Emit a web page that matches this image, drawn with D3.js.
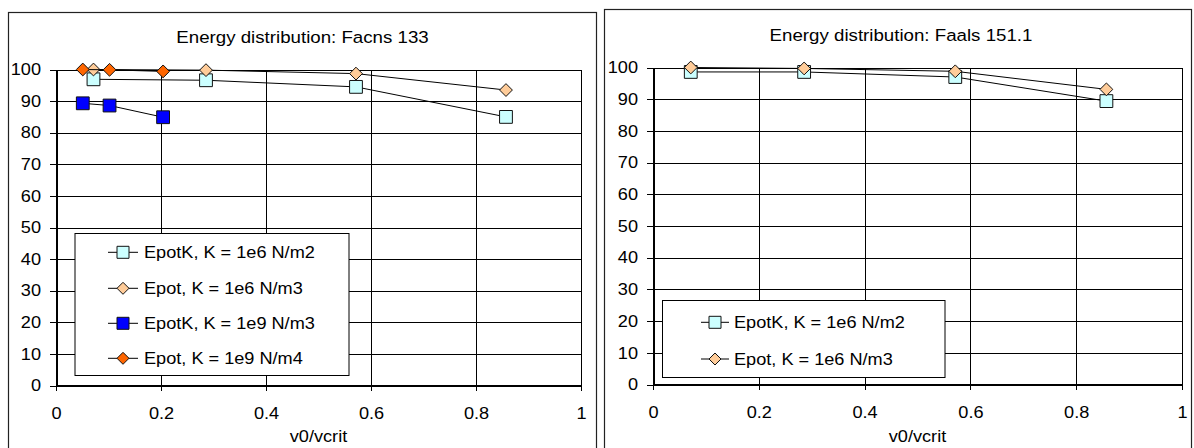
<!DOCTYPE html>
<html>
<head>
<meta charset="utf-8">
<script src="https://cdn.jsdelivr.net/npm/d3@7"></script>
<style>
  body { margin: 0; background: #fff; }
  svg { display: block; font-family: "Liberation Sans", Arial, sans-serif; }
  .grid line { stroke: #000; stroke-width: 1; shape-rendering: crispEdges; }
  .grid path { display: none; }
  .axis path, .axis line { stroke: #000; shape-rendering: crispEdges; }
  .axis path { stroke-width: 2; }
</style>
</head>
<body>
<svg width="1194" height="448"></svg>
<script>
// values
const xTickValues = [0, 0.2, 0.4, 0.6, 0.8, 1];
const yTickValues = [0, 10, 20, 30, 40, 50, 60, 70, 80, 90, 100];

const facnsX6 = [0.0714, 0.2857, 0.5714, 0.8571];
const facnsEpotK6 = [96.9, 96.6, 94.5, 85.0];
const facnsEpot6 = [100, 99.8, 98.7, 93.5];
const facnsX9 = [0.051, 0.102, 0.204];
const facnsEpotK9 = [89.3, 88.6, 84.9];
const facnsEpot9 = [100, 99.9, 99.4];

const faalsX6 = [0.0714, 0.2857, 0.5714, 0.8571];
const faalsEpotK6 = [98.6, 98.6, 97.0, 89.4];
const faalsEpot6 = [100, 99.7, 98.8, 93.1];

const facnsNames = ["EpotK, K = 1e6 N/m2", "Epot, K = 1e6 N/m3", "EpotK, K = 1e9 N/m3", "Epot, K = 1e9 N/m4"];
const faalsNames = ["EpotK, K = 1e6 N/m2", "Epot, K = 1e6 N/m3"];

const STRETCH = 1.1; // text in the picture is a little wide

const pts = (xs, ys) => xs.map((x, i) => ({ x, y: ys[i] }));

const charts = [
  {
    box: { x0: 8, y0: 12, x1: 596 },
    plot: { x0: 56, x1: 581, y0: 69.5, y1: 385.5 },
    title: "Energy distribution: Facns 133", titleX: 302.5, titleY: 42.7,
    legend: { x: 75, y: 233.5, w: 274, h: 142, rows: [252.3, 288.3, 323.3, 358.3], lx0: 108, lx1: 138, tx: 144 },
    series: [
      { name: facnsNames[0], data: pts(facnsX6, facnsEpotK6), shape: "square", fill: "#ccffff" },
      { name: facnsNames[1], data: pts(facnsX6, facnsEpot6), shape: "diamond", fill: "#ffcc99" },
      { name: facnsNames[2], data: pts(facnsX9, facnsEpotK9), shape: "square", fill: "#0000ff" },
      { name: facnsNames[3], data: pts(facnsX9, facnsEpot9), shape: "diamond", fill: "#ff6600" }
    ]
  },
  {
    box: { x0: 604, y0: 9, x1: 1191 },
    plot: { x0: 653, x1: 1182, y0: 67.5, y1: 384.5 },
    title: "Energy distribution: Faals 151.1", titleX: 901, titleY: 40.7,
    legend: { x: 662.5, y: 300.5, w: 282.5, h: 77, rows: [322.3, 359], lx0: 701, lx1: 729, tx: 734 },
    series: [
      { name: faalsNames[0], data: pts(faalsX6, faalsEpotK6), shape: "square", fill: "#ccffff" },
      { name: faalsNames[1], data: pts(faalsX6, faalsEpot6), shape: "diamond", fill: "#ffcc99" }
    ]
  }
];

const svg = d3.select("svg");

const markerPath = (shape, r) => shape === "square"
  ? `M${-r},${-r}H${r}V${r}H${-r}Z`
  : `M0,${-r}L${r},0L0,${r}L${-r},0Z`;

const addText = (g, txt, x, y, size, anchor) =>
  g.append("text")
    .attr("transform", `translate(${x},${y}) scale(${STRETCH},1)`)
    .attr("text-anchor", anchor)
    .style("font-size", size + "px")
    .attr("fill", "#000")
    .text(txt);

charts.forEach(c => {
  const g = svg.append("g");
  const p = c.plot;

  // chart border
  g.append("rect")
    .attr("x", c.box.x0 + 0.5).attr("y", c.box.y0 + 0.5)
    .attr("width", c.box.x1 - c.box.x0).attr("height", 470)
    .attr("fill", "#fff").attr("stroke", "#222").attr("stroke-width", 1.2);

  addText(g, c.title, c.titleX, c.titleY, 17, "middle");

  const x = d3.scaleLinear().domain([0, 1]).range([p.x0, p.x1]);
  const y = d3.scaleLinear().domain([0, 100]).range([p.y1, p.y0]);

  // gridlines
  g.append("g").attr("class", "grid")
    .attr("transform", `translate(${p.x0},0)`)
    .call(d3.axisLeft(y).tickValues(yTickValues).tickSize(-(p.x1 - p.x0)).tickFormat(""));
  g.append("g").attr("class", "grid")
    .attr("transform", `translate(0,${p.y1})`)
    .call(d3.axisBottom(x).tickValues(xTickValues).tickSize(-(p.y1 - p.y0)).tickFormat(""));

  // axes
  const yAxis = g.append("g").attr("class", "axis")
    .attr("transform", `translate(${p.x0},0)`)
    .call(d3.axisLeft(y).tickValues(yTickValues).tickSize(6).tickSizeOuter(0).tickFormat(d3.format("d")));
  yAxis.selectAll("text")
    .style("font-size", "16.5px")
    .style("font-family", "'Liberation Sans', Arial, sans-serif")
    .attr("fill", "#000")
    .attr("x", -15 / STRETCH)
    .attr("transform", `scale(${STRETCH},1)`);

  const xAxis = g.append("g").attr("class", "axis")
    .attr("transform", `translate(0,${p.y1})`)
    .call(d3.axisBottom(x).tickValues(xTickValues).tickSize(5).tickSizeOuter(0).tickFormat(d3.format("")));
  xAxis.selectAll("text")
    .style("font-size", "16.5px")
    .style("font-family", "'Liberation Sans', Arial, sans-serif")
    .attr("fill", "#000")
    .attr("y", 34).attr("dy", 0)
    .attr("transform", `scale(${STRETCH},1)`);

  addText(g, "v0/vcrit", (p.x0 + p.x1) / 2, 442, 16.5, "middle");

  // series
  const line = d3.line().x(d => x(d.x)).y(d => y(d.y));
  c.series.forEach(s => {
    g.append("path")
      .datum(s.data)
      .attr("d", line)
      .attr("fill", "none")
      .attr("stroke", "#000")
      .attr("stroke-width", 1);
    g.selectAll(null)
      .data(s.data)
      .join("path")
      .attr("transform", d => `translate(${x(d.x)},${y(d.y)})`)
      .attr("d", markerPath(s.shape, 6.4))
      .attr("fill", s.fill)
      .attr("stroke", "#111")
      .attr("stroke-width", 1);
  });

  // legend
  const L = c.legend;
  const lg = g.append("g");
  lg.append("rect")
    .attr("x", L.x).attr("y", L.y).attr("width", L.w).attr("height", L.h)
    .attr("fill", "#fff").attr("stroke", "#000").attr("stroke-width", 1);
  c.series.forEach((s, i) => {
    const ry = L.rows[i];
    lg.append("line")
      .attr("x1", L.lx0).attr("x2", L.lx1).attr("y1", ry).attr("y2", ry)
      .attr("stroke", "#000").attr("stroke-width", 1);
    lg.append("path")
      .attr("transform", `translate(${(L.lx0 + L.lx1) / 2},${ry})`)
      .attr("d", markerPath(s.shape, 6))
      .attr("fill", s.fill).attr("stroke", "#111").attr("stroke-width", 1);
    addText(lg, s.name, L.tx, ry + 6, 16.5, "start");
  });
});
</script>
</body>
</html>
